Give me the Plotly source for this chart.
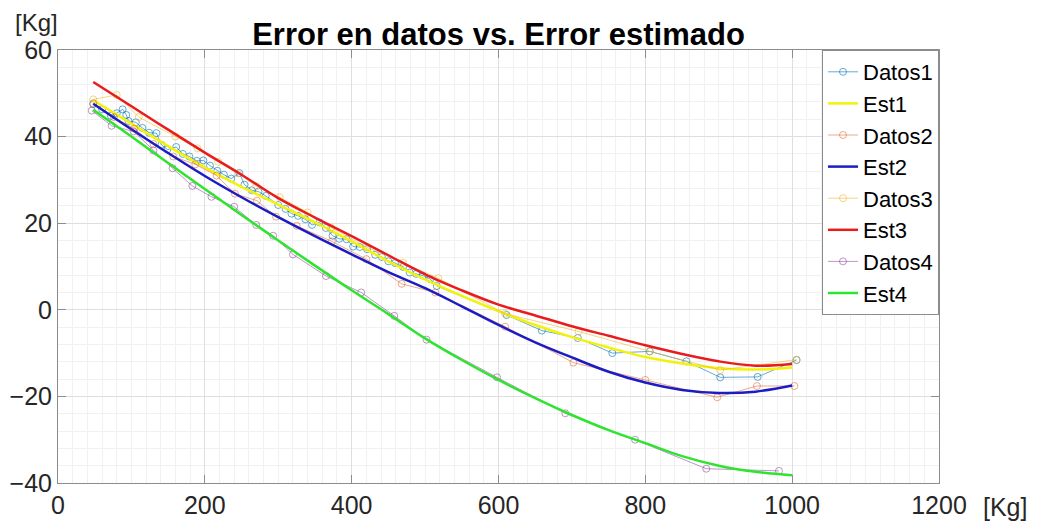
import plotly.graph_objects as go

# Measured data sets (kg, error in kg)
datos1_x = [48, 60, 72, 80, 88, 93, 96, 106, 115, 124, 134, 141, 149, 161, 170, 179, 189, 198,
            207, 217, 226, 236, 247, 254, 264, 273, 283, 300, 310, 318, 327, 337, 346, 356,
            365, 374, 383, 393, 402, 411, 421, 432, 441, 450, 459, 470, 479, 488, 497, 507,
            516, 611, 659, 708, 755, 806, 856, 902, 953, 1006]
datos1_y = [47.5, 46.3, 44.8, 45.4, 46.3, 45.0, 43.6, 43.3, 42.0, 40.9, 40.8, 38.1, 37.0, 37.6,
            36.0, 35.4, 34.4, 34.5, 33.3, 32.1, 31.2, 30.3, 31.6, 28.9, 27.6, 27.3, 26.3, 24.2,
            23.3, 22.2, 21.7, 20.9, 19.6, 20.2, 18.9, 17.1, 16.4, 16.3, 14.6, 14.5, 14.0, 12.7,
            12.2, 11.2, 10.8, 9.9, 8.6, 8.3, 7.9, 7.1, 5.5, -1.2, -4.8, -6.5, -10.0, -9.6,
            -11.9, -15.6, -15.5, -11.6]

datos2_x = [48, 76, 104, 130, 157, 187, 216, 241, 271, 297, 325, 373, 420, 468, 514, 609,
            702, 800, 898, 952, 1003]
datos2_y = [47.7, 44.5, 41.8, 38.3, 35.4, 33.6, 31.0, 26.8, 25.2, 21.5, 19.4, 15.8, 11.7, 6.0,
            4.0, -3.9, -12.2, -16.2, -20.2, -17.6, -17.6]

datos3_x = [48, 80, 110, 160, 190, 218, 245, 270, 302, 340, 372, 420, 470, 518, 609, 709,
            806, 902, 1006]
datos3_y = [48.6, 49.6, 44.5, 40.0, 37.3, 34.2, 31.5, 28.5, 26.0, 22.5, 19.0, 14.5, 10.9, 7.3,
            -0.9, -5.0, -9.6, -13.9, -11.5]

datos4_x = [46, 73, 103, 130, 156, 183, 209, 240, 270, 293, 320, 365, 413, 458, 502, 598,
            691, 786, 883, 982]
datos4_y = [46.0, 42.5, 41.2, 36.8, 32.7, 28.6, 26.1, 23.8, 19.6, 17.1, 12.8, 7.8, 4.0, -1.4,
            -6.9, -15.6, -23.9, -30.0, -36.7, -37.2]

# Estimated error curves
est_x = [48, 100, 150, 200, 250, 300, 350, 400, 450, 500, 550, 600, 650, 700, 750, 800,
         850, 900, 950, 1000]
est1_y = [48.4, 43.0, 37.8, 32.9, 28.4, 24.3, 20.2, 15.8, 11.2, 7.0, 3.2, -0.3, -3.5, -6.3,
          -8.7, -10.9, -12.4, -13.5, -13.8, -13.3]
est2_y = [47.6, 41.7, 36.2, 30.9, 26.0, 21.4, 17.0, 12.8, 8.7, 5.0, 0.8, -3.5, -7.5, -11.0,
          -14.3, -16.8, -18.5, -19.2, -18.9, -17.5]
est3_y = [52.6, 47.0, 41.6, 36.3, 31.2, 25.8, 21.3, 17.0, 12.6, 8.2, 4.5, 1.2, -1.3, -3.8,
          -6.0, -8.2, -10.2, -11.9, -12.9, -12.5]
est4_y = [46.2, 40.0, 33.9, 27.9, 21.9, 16.0, 10.2, 4.5, -1.0, -6.6, -11.6, -16.2, -20.4,
          -24.3, -27.8, -30.8, -33.8, -36.0, -37.4, -38.2]

x_ticks = [0, 200, 400, 600, 800, 1000, 1200]
y_ticks = [-40, -20, 0, 20, 40, 60]

FONT = "Liberation Sans, Arial, Helvetica, sans-serif"

# Page and plot-area geometry in pixels
W, H = 1038, 521
L, R, T, B = 58, 99, 50, 38
PW, PH = W - L - R, H - T - B


def px_to_paper(px, py):
    return (px - L) / PW, (H - B - py) / PH


fig = go.Figure()


def datos(name, x, y, color):
    fig.add_trace(go.Scatter(
        x=x, y=y, name=name, mode="lines+markers",
        line=dict(color=color, width=1),
        marker=dict(symbol="circle-open", size=7, color=color, line=dict(width=1)),
    ))


def est(name, y, color):
    fig.add_trace(go.Scatter(
        x=est_x, y=y, name=name, mode="lines",
        line=dict(color=color, width=2.5, shape="spline", smoothing=1.0),
    ))


datos("Datos1", datos1_x, datos1_y, "rgba(0,114,189,0.6)")
est("Est1", est1_y, "#f2f20a")
datos("Datos2", datos2_x, datos2_y, "rgba(217,83,25,0.5)")
est("Est2", est2_y, "#1c1cc4")
datos("Datos3", datos3_x, datos3_y, "rgba(237,177,32,0.55)")
est("Est3", est3_y, "#e81c1c")
datos("Datos4", datos4_x, datos4_y, "rgba(126,47,142,0.5)")
est("Est4", est4_y, "#2ee42e")

axis_common = dict(
    showline=True, linecolor="#8c8c8c", linewidth=1, mirror="ticks",
    ticks="inside", ticklen=8, tickcolor="#8c8c8c",
    showgrid=True, gridcolor="#dedede", gridwidth=1,
    zeroline=False, automargin=False,
    tickfont=dict(family=FONT, size=25, color="#262626"),
)

fig.update_xaxes(
    range=[0, 1200], tickvals=x_ticks,
    minor=dict(dtick=20, showgrid=True, gridcolor="#f1f1f1", ticklen=0),
    **axis_common,
)
fig.update_yaxes(
    range=[-40, 60], tickvals=y_ticks,
    minor=dict(dtick=4, showgrid=True, gridcolor="#f1f1f1", ticklen=0),
    **axis_common,
)

ylab_x, ylab_y = px_to_paper(36, 22)
xlab_x, xlab_y = px_to_paper(1005, 507)

fig.update_layout(
    width=W, height=H,
    margin=dict(l=L, r=R, t=T, b=B, autoexpand=False),
    paper_bgcolor="white", plot_bgcolor="white",
    font=dict(family=FONT, color="#262626"),
    title=dict(
        text="<b>Error en datos vs. Error estimado</b>",
        font=dict(family=FONT, size=31, color="black"),
        x=0.5, xref="paper", y=1 - 34 / H, yref="container",
        xanchor="center", yanchor="middle",
    ),
    showlegend=True,
    legend=dict(
        x=1, y=1, xanchor="right", yanchor="top",
        bgcolor="white", bordercolor="#8c8c8c", borderwidth=1,
        font=dict(family=FONT, size=22, color="black"),
        tracegroupgap=0, itemwidth=30,
    ),
    annotations=[
        dict(text="[Kg]", x=ylab_x, y=ylab_y, xref="paper", yref="paper",
             xanchor="center", yanchor="middle", showarrow=False,
             font=dict(family=FONT, size=24, color="#262626")),
        dict(text="[Kg]", x=xlab_x, y=xlab_y, xref="paper", yref="paper",
             xanchor="center", yanchor="middle", showarrow=False,
             font=dict(family=FONT, size=25, color="#262626")),
    ],
)

fig.write_html("out.html")
